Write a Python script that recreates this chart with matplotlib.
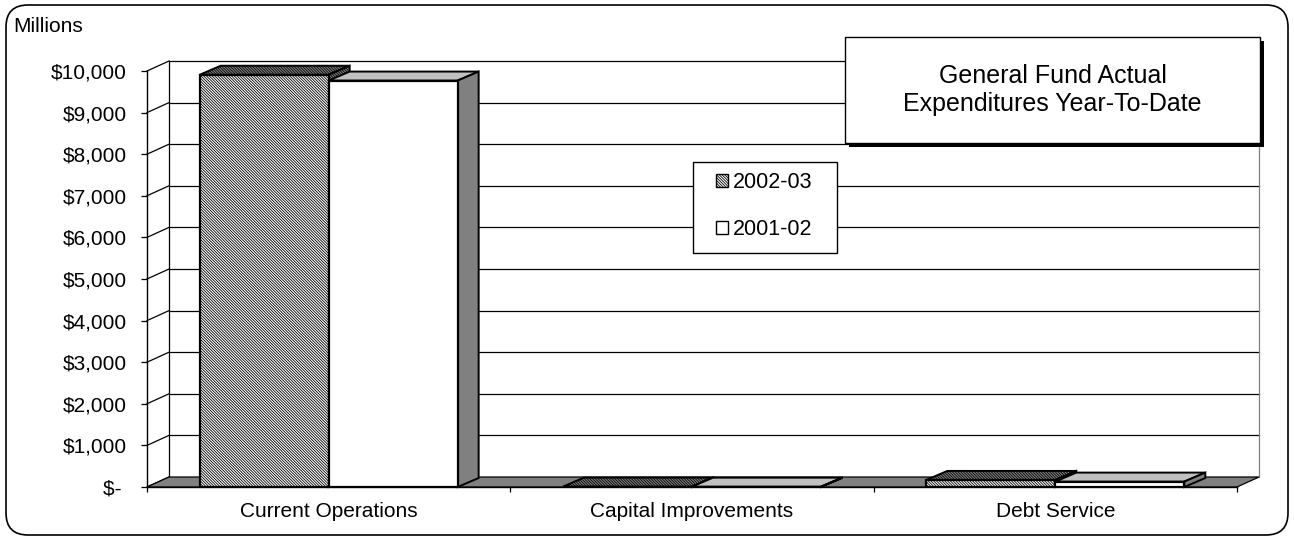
import matplotlib
matplotlib.use('Agg')
import matplotlib.pyplot as plt
from matplotlib.patches import Polygon, Patch, FancyBboxPatch, Rectangle
from matplotlib.lines import Line2D
from matplotlib.transforms import IdentityTransform
import numpy as np

# ---------------- data ----------------
categories = ['Current Operations', 'Capital Improvements', 'Debt Service']
series_names = ['2002-03', '2001-02']
values_2002_03 = [9910, 10, 170]
values_2001_02 = [9770, 8, 130]
ytick_values = [0, 1000, 2000, 3000, 4000, 5000, 6000, 7000, 8000, 9000, 10000]
ytick_labels = ['$- ', '$1,000', '$2,000', '$3,000', '$4,000', '$5,000',
                '$6,000', '$7,000', '$8,000', '$9,000', '$10,000']
title_text = 'General Fund Actual\nExpenditures Year-To-Date'
unit_label = 'Millions'

# ---------------- style ----------------
plt.rcParams['font.family'] = ['Liberation Sans', 'DejaVu Sans']
plt.rcParams['hatch.linewidth'] = 0.6
plt.rcParams['hatch.color'] = 'black'
HATCH = '\\' * 12

W, H = 1294, 539
DPI = 100
fig = plt.figure(figsize=(W / DPI, H / DPI), dpi=DPI)
fig.patch.set_facecolor('white')

left_px, right_px = 147, 1237
base_px, top_px = 487, 71
ax = fig.add_axes([left_px / W, (H - base_px) / H,
                   (right_px - left_px) / W, (base_px - top_px) / H])
ax.set_xlim(-0.5, len(categories) - 0.5)
ax.set_ylim(0, 10000)
ax.patch.set_visible(False)

WALL_D = np.array([22.0, 10.0])   # depth offset of back wall (pixels)
BAR_D = np.array([21.0, 9.0])     # depth offset of bars (pixels)
ID = IdentityTransform()


def disp(x, y):
    return np.array(ax.transData.transform((x, y)))


def add_line(p0, p1, color='black', lw=0.9, z=1):
    ax.add_artist(Line2D([p0[0], p1[0]], [p0[1], p1[1]], color=color, lw=lw,
                         transform=ID, clip_on=False, zorder=z))


def add_poly(pts, fc, hatch=None, lw=1.4, z=2):
    p = Polygon(pts, closed=True, facecolor=fc, edgecolor='black', lw=lw,
                hatch=hatch, transform=ID, clip_on=False, zorder=z)
    ax.add_artist(p)


xmin, xmax = ax.get_xlim()
# back wall gridlines + side wall diagonals
for v in ytick_values:
    f = disp(xmin, v)
    b = f + WALL_D
    br = disp(xmax, v) + WALL_D
    add_line(f, b, lw=0.9, z=1)
    if v > 0:
        add_line(b, br, lw=0.9, z=1)
add_line(disp(xmin, 0) + WALL_D, disp(xmin, 10000) + WALL_D, lw=0.9, z=1)
add_line(disp(xmax, 0) + WALL_D, disp(xmax, 10000) + WALL_D, color='#808080', lw=0.9, z=1)

# floor
f0, f1 = disp(xmin, 0), disp(xmax, 0)
add_poly([f0, f1, f1 + WALL_D, f0 + WALL_D], '#808080', lw=0.9, z=1.5)

# bars
x = np.arange(len(categories))
w = 0.355
bars1 = ax.bar(x - w / 2, values_2002_03, w, facecolor='white', edgecolor='black',
               hatch=HATCH, linewidth=1.6, label=series_names[0])
bars2 = ax.bar(x + w / 2, values_2001_02, w, facecolor='white', edgecolor='black',
               linewidth=1.6, label=series_names[1])

z = 3.0
for i in range(len(categories)):
    for rect, top_fc, side_fc, hatch in ((bars1[i], '#808080', '#808080', HATCH),
                                         (bars2[i], '#c0c0c0', '#808080', None)):
        x0 = rect.get_x()
        x1 = x0 + rect.get_width()
        h = rect.get_height()
        tl, tr, br = disp(x0, h), disp(x1, h), disp(x1, 0)
        add_poly([tl, tr, tr + BAR_D, tl + BAR_D], top_fc, hatch=hatch, lw=1.4, z=z)
        add_poly([tr, br, br + BAR_D, tr + BAR_D], side_fc, hatch=hatch, lw=1.4, z=z)
        rect.set_zorder(z + 0.5)
        z += 1

# axes / ticks
for s in ('top', 'right'):
    ax.spines[s].set_visible(False)
ax.spines['left'].set_linewidth(1.0)
ax.spines['bottom'].set_linewidth(1.0)
ax.spines['left'].set_zorder(20)
ax.spines['bottom'].set_zorder(20)
ax.set_yticks(ytick_values, ytick_labels)
ax.tick_params(axis='y', direction='out', length=4.3, width=0.9, pad=10, labelsize=15)
ax.set_xticks(x, categories)
ax.set_xticks(np.arange(len(categories) + 1) - 0.5, minor=True)
ax.tick_params(axis='x', which='major', length=0, pad=11, labelsize=15)
ax.tick_params(axis='x', which='minor', direction='out', length=3.6, width=0.9)

# legend (frame drawn as rectangle)
lx0, lx1, ly0, ly1 = 693, 837, 162, 253
ax.add_artist(Rectangle((lx0, H - ly1), lx1 - lx0, ly1 - ly0, facecolor='white',
                        edgecolor='black', lw=1.0, transform=ID, clip_on=False, zorder=30))
handles = [Patch(facecolor='white', edgecolor='black', hatch=HATCH, lw=1.0),
           Patch(facecolor='white', edgecolor='black', lw=1.0)]
leg = ax.legend(handles, series_names, loc='upper left',
                bbox_to_anchor=(716 / W, 1 - 172 / H), bbox_transform=fig.transFigure,
                borderaxespad=0, borderpad=0, frameon=False, fontsize=15.5,
                handlelength=0.58, handleheight=0.58, handletextpad=0.2,
                labelspacing=1.2)
leg.set_zorder(31)

# overlay: outer frame, title box, unit label
ov = fig.add_axes([0, 0, 1, 1], zorder=10)
ov.set_xlim(0, W)
ov.set_ylim(0, H)
ov.axis('off')
ov.patch.set_visible(False)
ov.add_patch(FancyBboxPatch((6, 4), W - 12, H - 9, boxstyle='round,pad=0,rounding_size=22',
                            facecolor='none', edgecolor='black', lw=1.2))
tx0, tx1, ty0, ty1 = 845, 1260, 37, 143
ov.add_patch(Rectangle((tx0 + 4, H - ty1 - 4), tx1 - tx0, ty1 - ty0, facecolor='black',
                       edgecolor='black', lw=0))
ov.add_patch(Rectangle((tx0, H - ty1), tx1 - tx0, ty1 - ty0, facecolor='white',
                       edgecolor='black', lw=1.0))
ov.text((tx0 + tx1) / 2, H - (ty0 + ty1) / 2, title_text, ha='center', va='center',
        fontsize=18, linespacing=1.2)
ov.text(13, H - 27, unit_label, ha='left', va='center', fontsize=15)

fig.savefig('out.png', dpi=DPI)
